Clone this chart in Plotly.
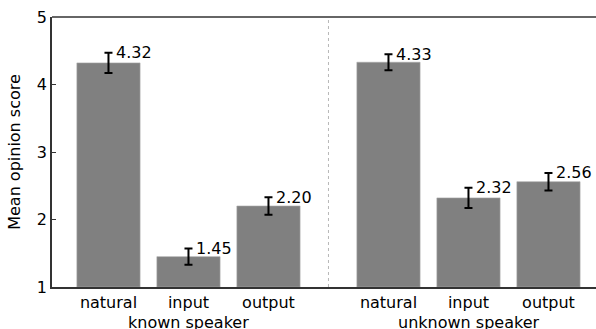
import plotly.graph_objects as go

categories = ["natural", "input", "output", "natural", "input", "output"]
groups = ["known speaker", "unknown speaker"]
x_pos = [0, 1, 2, 3.5, 4.5, 5.5]
group_centers = [1, 4.5]
values = [4.32, 1.45, 2.20, 4.33, 2.32, 2.56]
errors = [0.15, 0.12, 0.13, 0.12, 0.15, 0.13]
y_ticks = [1, 2, 3, 4, 5]

FONT = "DejaVu Sans"

fig = go.Figure()
fig.add_trace(go.Bar(
    x=x_pos, y=[v - 1 for v in values], base=1, width=0.79,
    marker=dict(color="#808080", line=dict(color="#a8a8a8", width=0.6)),
    error_y=dict(type="data", array=errors, color="black", thickness=2, width=4),
    hoverinfo="skip",
))

for xp, v, e in zip(x_pos, values, errors):
    fig.add_annotation(x=xp, y=v + e, text=f"{v:.2f}", showarrow=False,
                       xanchor="left", yanchor="middle", xshift=6,
                       font=dict(family=FONT, size=16, color="black"))

for gc, g in zip(group_centers, groups):
    fig.add_annotation(x=gc, y=0, yref="paper", text=g, showarrow=False,
                       xanchor="center", yanchor="top", yshift=-24,
                       font=dict(family=FONT, size=16, color="black"))

fig.add_shape(type="line", x0=2.75, x1=2.75, y0=0, y1=1, yref="paper",
              line=dict(color="#b8b8b8", width=1, dash="dot"))
fig.add_shape(type="line", x0=0, x1=1, xref="paper", y0=1, y1=1, yref="paper",
              line=dict(color="#333333", width=1.5))

fig.update_layout(
    width=596, height=329,
    margin=dict(l=52, r=0, t=17, b=42, autoexpand=False),
    plot_bgcolor="white", paper_bgcolor="white",
    showlegend=False,
    font=dict(family=FONT, size=16, color="black"),
    xaxis=dict(range=[-0.706, 6.094], tickvals=x_pos, ticktext=categories,
               showline=True, linecolor="#333333", linewidth=1.5,
               ticks="", showgrid=False, zeroline=False, automargin=False,
               tickfont=dict(family=FONT, size=16)),
    yaxis=dict(range=[1, 5], tickvals=y_ticks, ticktext=[str(t) for t in y_ticks],
               showline=True, linecolor="#333333", linewidth=1.5,
               ticks="inside", ticklen=4, tickcolor="#333333",
               showgrid=False, zeroline=False, automargin=False,
               title=dict(text="Mean opinion score", font=dict(family=FONT, size=16), standoff=12),
               tickfont=dict(family=FONT, size=16)),
)

fig.write_html("out.html", config={"displayModeBar": False},
               post_script="document.body.style.margin='0';document.body.style.overflow='hidden';")
